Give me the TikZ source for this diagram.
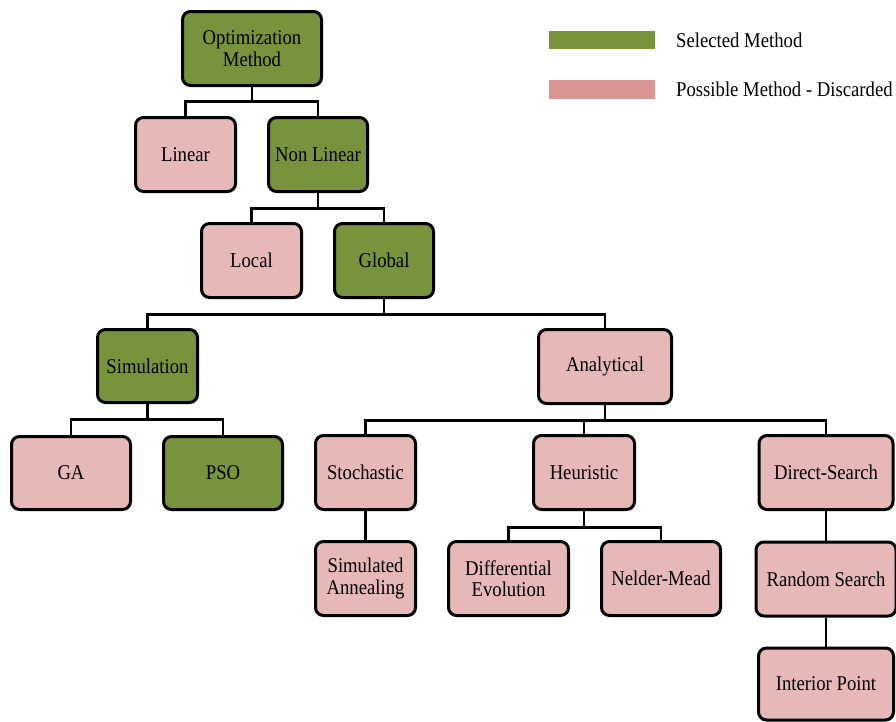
\documentclass[tikz,border=0pt]{standalone}
\usepackage{fontspec}
\setmainfont[FakeStretch=0.89]{Liberation Serif}
\begin{document}
\definecolor{selgreen}{HTML}{77933C}
\definecolor{dropfill}{HTML}{E6B9B8}
\definecolor{droplegend}{HTML}{D99694}
\begin{tikzpicture}[x=1pt,y=-1pt,
  box/.style={draw=black, line width=3pt, rounded corners=8pt, align=center,
    inner sep=0pt, minimum height=74pt, font=\fontsize{21}{21.5}\selectfont},
  sel/.style={box, fill=selgreen},
  drop/.style={box, fill=dropfill},
  link/.style={line width=2.5pt, draw=black},
  legendbox/.style={draw=none, minimum width=106pt, minimum height=18pt, inner sep=0pt},
  legendtext/.style={anchor=west, inner sep=0pt, font=\fontsize{21}{21.5}\selectfont}]
\useasboundingbox (0,0) rectangle (896,721);

% tree nodes
\node[sel,  minimum width=139pt] (om)   at (252,48.5)   {Optimization\\Method};
\node[drop, minimum width=100pt] (lin)  at (185.5,154.5) {Linear};
\node[sel,  minimum width=99pt]  (nl)   at (318,154.5)  {Non Linear};
\node[drop, minimum width=100pt] (loc)  at (251.5,260.5) {Local};
\node[sel,  minimum width=99pt]  (glob) at (384,260.5)  {Global};
\node[sel,  minimum width=100pt, minimum height=73pt] (sim) at (147.5,366) {Simulation};
\node[drop, minimum width=133pt] (ana)  at (605,366.5)  {Analytical};
\node[drop, minimum width=119pt, minimum height=73pt] (ga)  at (71,473)  {GA};
\node[sel,  minimum width=119pt, minimum height=73pt] (pso) at (223,473) {PSO};
\node[drop, minimum width=100pt] (sto)  at (365.5,472.5) {Stochastic};
\node[drop, minimum width=101pt] (heu)  at (584,472.5)  {Heuristic};
\node[drop, minimum width=134pt] (ds)   at (826,472.5)  {Direct-Search};
\node[drop, minimum width=100pt] (sa)   at (365.5,578.5) {Simulated\\Annealing};
\node[drop, minimum width=120pt] (de)   at (508.5,578.5) {Differential\\Evolution};
\node[drop, minimum width=119pt] (nm)   at (661,578.5)  {Nelder-Mead};
\node[drop, minimum width=140pt] (rs)   at (826,579)    {Random Search};
\node[drop, minimum width=135pt, minimum height=72pt] (ip) at (826,684) {Interior Point};

% connectors
\draw[link] (om.south) -- ++(0,14.5) -| (lin.north);
\draw[link] (om.south) -- ++(0,14.5) -| (nl.north);
\draw[link] (nl.south) -- ++(0,15.5) -| (loc.north);
\draw[link] (nl.south) -- ++(0,15.5) -| (glob.north);
\draw[link] (glob.south) -- ++(0,15.5) -| (sim.north);
\draw[link] (glob.south) -- ++(0,15.5) -| (ana.north);
\draw[link] (sim.south) -- ++(0,15.5) -| (ga.north);
\draw[link] (sim.south) -- ++(0,15.5) -| (pso.north);
\draw[link] (ana.south) -- ++(0,15.5) -| (sto.north);
\draw[link] (ana.south) -- ++(0,15.5) -| (heu.north);
\draw[link] (ana.south) -- ++(0,15.5) -| (ds.north);
\draw[link] (heu.south) -- ++(0,16.5) -| (de.north);
\draw[link] (heu.south) -- ++(0,16.5) -| (nm.north);
\draw[link] (sto.south) -- (sa.north);
\draw[link] (ds.south) -- (rs.north);
\draw[link] (rs.south) -- (ip.north);

% legend
\node[legendbox, fill=selgreen]   (lgsel)  at (602,40)   {};
\node[legendbox, fill=droplegend, minimum height=19pt] (lgdrop) at (602,89.5) {};
\node[legendtext] (lgseltxt)  at (676,40)   {Selected Method};
\node[legendtext] (lgdroptxt) at (676,89.5) {Possible Method - Discarded};
\end{tikzpicture}
\end{document}
